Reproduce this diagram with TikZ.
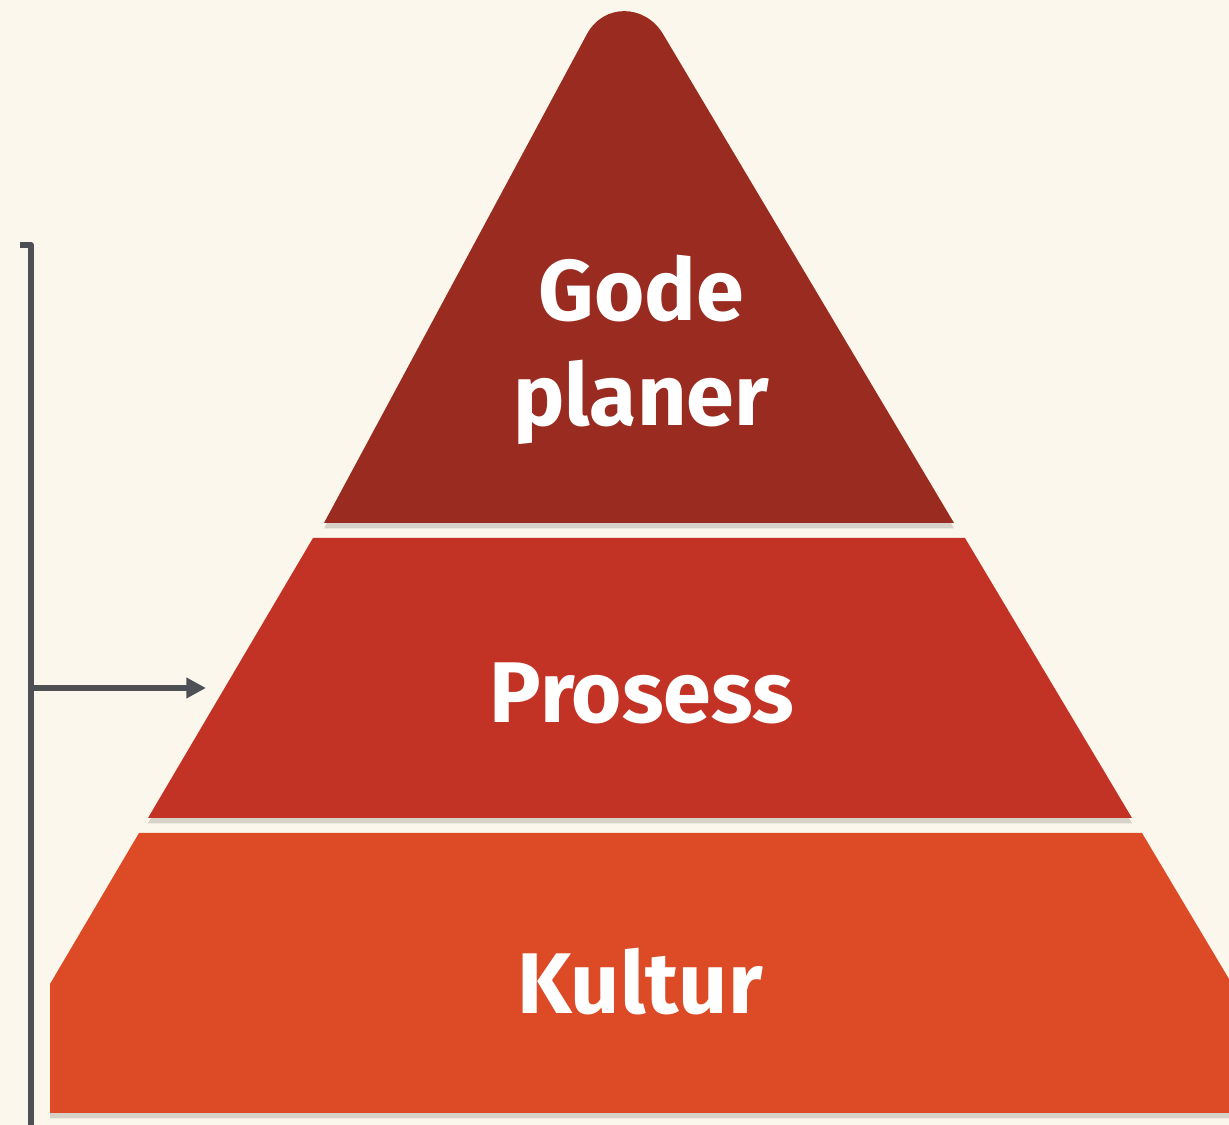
\documentclass[tikz,border=0pt]{standalone}
\usepackage{fontspec}
\setmainfont{Fira Sans}
\usepackage{tikz}
\usetikzlibrary{arrows.meta, shadows}

\definecolor{paper}{HTML}{FCF7EC}
\definecolor{planred}{HTML}{9A2B20}
\definecolor{prosred}{HTML}{C33325}
\definecolor{kultred}{HTML}{DC4A26}
\definecolor{bracketgray}{HTML}{4D5055}

\begin{document}
\begin{tikzpicture}[
    x=0.01cm, y=-0.01cm,
    layer/.style={drop shadow={shadow xshift=0pt, shadow yshift=-1.5pt, opacity=0.15, fill=black}},
    label/.style={text=white, font=\fontsize{24.5}{30}\selectfont\bfseries, align=center},
    bracket/.style={draw=bracketgray, line width=1.7pt},
    arrow/.style={bracket, -{Triangle[length=5.6pt, width=5.6pt]}}
]

\fill[paper] (0,0) rectangle (1229,1125);
\useasboundingbox (0,0) rectangle (1229,1125);

% pyramid layers
\fill[kultred, layer] (139,833) -- (1142,833) -- (1229,979) -- (1229,1113)
    -- (50,1113) -- (50,984) -- cycle;
\fill[prosred, layer] (313,538) -- (965,538) -- (1132,818) -- (148,818) -- cycle;
\fill[planred, layer] (324,523) -- (587,34) .. controls (604,3) and (645,4) .. (663,34)
    -- (954,523) -- cycle;

\node[label] (plans) at (641,350) {Gode\\planer};
\node[label] (process) at (642,693) {Prosess};
\node[label] (culture) at (640,982) {Kultur};

% bracket on the left
\coordinate (brtop) at (31,245);
\coordinate (brfoot) at (31,1125);
\coordinate (brmid) at (31,688);
\coordinate (target) at (206,688);

\draw[bracket, line join=round] (20,245) -- (brtop) -- (brfoot);
\draw[arrow] (brmid) -- (target);

\end{tikzpicture}
\end{document}
